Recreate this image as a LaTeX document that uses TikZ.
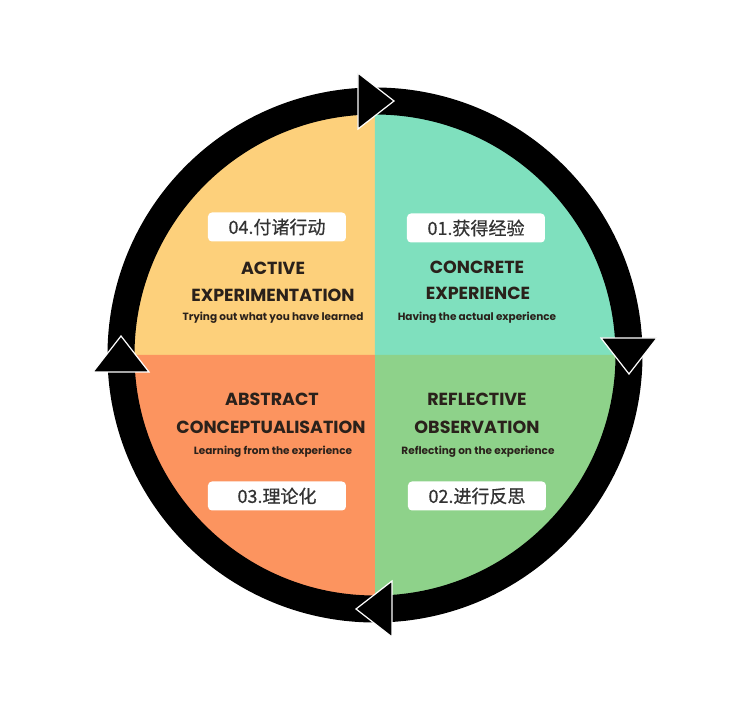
\documentclass[tikz,border=0pt]{standalone}
\usepackage{fontspec}
\setmainfont{Poppins}
\newfontfamily\cjk[FakeBold=0.6]{Noto Sans CJK SC}
\definecolor{qyellow}{HTML}{FDD07B}
\definecolor{qteal}{HTML}{7FE0BE}
\definecolor{qorange}{HTML}{FC945F}
\definecolor{qgreen}{HTML}{8ED28A}
\definecolor{ink}{HTML}{2A211B}
\definecolor{labelink}{HTML}{333333}
\begin{document}
\begin{tikzpicture}[x=1pt,y=1pt,
  tag/.style={fill=white, rounded corners=4pt, minimum width=138pt, minimum height=29pt, inner sep=0pt, font=\cjk\fontsize{18}{18}\selectfont, text=labelink},
  title/.style={font=\bfseries\fontsize{17.5}{17.5}\selectfont, text=ink, inner sep=0pt},
  sub/.style={font=\bfseries\fontsize{10.5}{10.5}\selectfont, text=ink, inner sep=0pt},
  ringarrow/.style={fill=black, draw=white, line width=1.2pt, line join=miter}]
\useasboundingbox (-375,-365) rectangle (373,355);
% quadrants
\fill[qyellow] (0,0) -- (180:241) arc[start angle=180, end angle=90, radius=241] -- cycle;
\fill[qteal] (0,0) -- (90:241) arc[start angle=90, end angle=0, radius=241] -- cycle;
\fill[qgreen] (0,0) -- (0:241) arc[start angle=0, end angle=-90, radius=241] -- cycle;
\fill[qorange] (0,0) -- (-90:241) arc[start angle=-90, end angle=-180, radius=241] -- cycle;
% ring
\draw[line width=27pt] (0,0) circle[radius=254];
% arrowheads
\foreach \a in {0,-90,-180,-270}{
  \begin{scope}[rotate=\a]
    \filldraw[ringarrow] (-17,282) -- (19,254) -- (-17,226) -- cycle;
  \end{scope}
}
% labels
\node[tag] (t4) at (-98,128) {04.付诸行动};
\node[tag] (t1) at (101,127) {01.获得经验};
\node[tag] (t3) at (-98,-141) {03.理论化};
\node[tag] (t2) at (102,-141) {02.进行反思};
% top-left
\node[title] (ae1) at (-102,87) {ACTIVE};
\node[title] (ae2) at (-102,60) {EXPERIMENTATION};
\node[sub] (ae3) at (-102,37) {Trying out what you have learned};
% top-right
\node[title] (ce1) at (102,88) {CONCRETE};
\node[title] (ce2) at (103,62) {EXPERIENCE};
\node[sub] (ce3) at (102,37) {Having the actual experience};
% bottom-left
\node[title] (ac1) at (-103,-44) {ABSTRACT};
\node[title] (ac2) at (-104,-72) {CONCEPTUALISATION};
\node[sub] (ac3) at (-102,-97) {Learning from the experience};
% bottom-right
\node[title] (ro1) at (102,-44) {REFLECTIVE};
\node[title] (ro2) at (102,-72) {OBSERVATION};
\node[sub] (ro3) at (103,-97) {Reflecting on the experience};
\end{tikzpicture}
\end{document}
